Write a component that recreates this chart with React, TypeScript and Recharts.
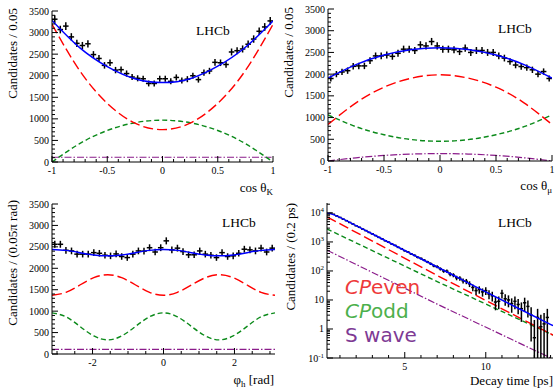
import React from "react";
import { ComposedChart, Scatter, Line, XAxis, YAxis, ErrorBar } from "recharts";

const SERIF = "'Liberation Serif', 'Times New Roman', serif";
const SANS = "'DejaVu Sans', sans-serif";

const BLUE = "#0000ff";
const RED = "#ff0000";
const GREEN = "#0b8a1a";
const PURPLE = "#8b1c8b";

// cos(theta_K): 40 bins of 0.05
const cosKData = [3310, 3070, 3150, 2900, 2750, 2700, 2740, 2490, 2400, 2240, 2300, 2130, 2140, 2050, 1970, 1940, 1930, 1820, 1820, 1930,
  1930, 1870, 1960, 1890, 1920, 2000, 1910, 2070, 2110, 2310, 2300, 2260, 2550, 2580, 2620, 2730, 2850, 3030, 3130, 3270];
// cos(theta_mu)
const cosMuData = [1900, 2000, 2050, 2080, 2180, 2190, 2190, 2310, 2420, 2420, 2440, 2410, 2480, 2575, 2575, 2545, 2675, 2650, 2750, 2650,
  2575, 2575, 2560, 2520, 2600, 2500, 2545, 2545, 2500, 2500, 2420, 2370, 2290, 2210, 2175, 2150, 2100, 2000, 2060, 1900];
// phi_h, 40 bins of 0.05 pi
const phiData = [2560, 2560, 2420, 2405, 2330, 2330, 2330, 2365, 2350, 2305, 2290, 2335, 2275, 2250, 2330, 2405, 2400, 2480, 2380, 2480,
  2640, 2430, 2470, 2390, 2315, 2315, 2405, 2330, 2305, 2250, 2365, 2275, 2290, 2350, 2445, 2430, 2405, 2470, 2380, 2470];
// decay time, bins of 0.2 ps from 0.3 ps
const timeData = [9800, 9000, 7900, 7000, 6100, 5400, 4700, 4150, 3600, 3200, 2780, 2460, 2130, 1890, 1660, 1440, 1280, 1100, 985, 850,
  760, 650, 585, 500, 450, 385, 345, 295, 270, 235, 205, 178, 150, 140, 118, 100, 98, 78, 72, 58,
  56, 46, 44, 36, 27, 21, 23, 19, 21, 16, 14, 8.5, 9, 17, 11, 10, 7.5, 9, 7, 5,
  8, 6, 3, 0.5, 2.5, 1.2, 1.5, 2.5];

// fit curves, read at sample points
const cosX = [-1, -0.75, -0.5, -0.25, 0, 0.25, 0.5, 0.75, 1];
const cosKTotal = [3280, 2650, 2210, 1930, 1840, 1930, 2220, 2660, 3270];
const cosKEven = [3190, 2120, 1360, 900, 750, 900, 1360, 2120, 3190];
const cosKOdd = [0, 425, 730, 910, 970, 910, 730, 425, 0];
const cosKS = [110, 110, 110, 110, 110, 110, 110, 110, 110];

const cosMuTotal = [1910, 2220, 2440, 2570, 2610, 2570, 2440, 2220, 1910];
const cosMuEven = [840, 1340, 1700, 1910, 1985, 1910, 1700, 1340, 840];
const cosMuOdd = [1060, 790, 605, 492, 455, 492, 605, 790, 1060];
const cosMuS = [0, 74, 128, 160, 170, 160, 128, 74, 0];

const phiX = [-3.1416, -2.7489, -2.3562, -1.9635, -1.5708, -1.1781, -0.7854, -0.3927, 0, 0.3927, 0.7854, 1.1781, 1.5708, 1.9635, 2.3562, 2.7489, 3.1416];
const phiTotal = [2440, 2418, 2365, 2312, 2290, 2312, 2365, 2418, 2440, 2418, 2365, 2312, 2290, 2312, 2365, 2418, 2440];
const phiEven = [1370, 1440, 1610, 1780, 1850, 1780, 1610, 1440, 1370, 1440, 1610, 1780, 1850, 1780, 1610, 1440, 1370];
const phiOdd = [960, 868, 645, 422, 330, 422, 645, 868, 960, 868, 645, 422, 330, 422, 645, 868, 960];
const phiS = [110, 110, 110, 110, 110, 110, 110, 110, 110, 110, 110, 110, 110, 110, 110, 110, 110];

const timeX = [0.2, 0.5, 1, 2, 4, 6, 8, 10, 12, 14.15];
const timeTotal = [10000, 9100, 7000, 3630, 977, 263, 71, 19, 5.2, 1.3];
const lineX = [0.2, 7, 14.15];
const timeEven = [7300, 70, 0.62];
const timeOdd = [2800, 43, 0.62];
const timeS = [520, 7.2, 0.092];

const range = (lo: number, hi: number, step: number) => {
  const out: number[] = [];
  for (let v = lo; v <= hi + 1e-9; v += step) out.push(Math.round(v * 1000) / 1000);
  return out;
};

const bins = (vals: number[], lo: number, w: number) =>
  vals.map((v, i) => ({ x: lo + (i + 0.5) * w, y: v, ex: w / 2, ey: Math.sqrt(v) * 1.6 }));

const logBins = (vals: number[], lo: number, w: number) =>
  vals.map((v, i) => {
    const e = Math.sqrt(1.8 * v + 1.5);
    return { x: lo + (i + 0.5) * w, y: v, ex: w / 2, ey: [Math.min(e, v - 0.1001), e] };
  });

const curve = (xs: number[], ys: number[]) => xs.map((x, i) => ({ x, y: ys[i] }));

type Side = "bottom" | "top" | "left" | "right";

const makeTick = (side: Side, majors: number[], fmt?: (v: number) => React.ReactNode) => (props: any) => {
  const { x, y, payload } = props;
  const v = payload.value;
  const major = majors.some((m) => Math.abs(m - v) < 1e-6 * Math.max(1, Math.abs(m)));
  const l = major ? 6 : 3;
  let line;
  if (side === "bottom") line = <line x1={x} y1={y} x2={x} y2={y - l} stroke="#000" />;
  else if (side === "top") line = <line x1={x} y1={y} x2={x} y2={y + l} stroke="#000" />;
  else if (side === "left") line = <line x1={x} y1={y} x2={x + l} y2={y} stroke="#000" />;
  else line = <line x1={x} y1={y} x2={x - l} y2={y} stroke="#000" />;
  let label = null;
  if (major && fmt) {
    if (side === "bottom")
      label = (
        <text x={x} y={y + 12} textAnchor="middle" fontFamily={SERIF} fontSize={10} fill="#000">
          {fmt(v)}
        </text>
      );
    else if (side === "left")
      label = (
        <text x={x - 3} y={y + 3.5} textAnchor="end" fontFamily={SERIF} fontSize={10} fill="#000">
          {fmt(v)}
        </text>
      );
  }
  return (
    <g>
      {line}
      {label}
    </g>
  );
};

const plain = (v: number) => String(v);
const logFmt = (v: number) => {
  if (v === 1) return "1";
  if (v === 10) return "10";
  const e = Math.round(Math.log10(v));
  return (
    <>
      10
      <tspan dy={-4} fontSize={7}>
        {e}
      </tspan>
    </>
  );
};

const angYMajor = range(0, 3500, 500);
const angYTicks = range(0, 3500, 100);
const cosMajor = [-1, -0.5, 0, 0.5, 1];
const cosTicks = range(-1, 1, 0.1);
const phiMajor = [-2, 0, 2];
const phiTicks = range(-3, 3, 0.5);
const timeMajor = [5, 10];
const timeTicks = range(1, 14, 1);
const logMajor = [0.1, 1, 10, 100, 1000, 10000];
const logTicks = logMajor.flatMap((d) => [1, 2, 3, 4, 5, 6, 7, 8, 9].map((k) => Math.round(d * k * 1000) / 1000)).filter((v) => v <= 22000);

type PanelProps = {
  left: number;
  top: number;
  width: number;
  height: number;
  margin: { top: number; right: number };
  yWidth: number;
  xHeight: number;
  xDomain: [number, number];
  yDomain: [number, number];
  xMajor: number[];
  xTicks: number[];
  yMajor: number[];
  yTicks: number[];
  yFmt: (v: number) => React.ReactNode;
  log?: boolean;
  points: any[];
  total: any[];
  even: any[];
  odd: any[];
  swave: any[];
  smooth?: boolean;
};

const Panel = (p: PanelProps) => {
  const lt = p.smooth ? "natural" : "linear";
  return (
    <div style={{ position: "absolute", left: p.left, top: p.top }}>
      <ComposedChart width={p.width} height={p.height} margin={{ top: p.margin.top, right: p.margin.right, bottom: 0, left: 0 }}>
        <XAxis
          type="number"
          dataKey="x"
          domain={p.xDomain}
          ticks={p.xTicks}
          interval={0}
          allowDataOverflow
          height={p.xHeight}
          tickSize={0}
          tickMargin={0}
          tickLine={false}
          axisLine={{ stroke: "#000" }}
          tick={makeTick("bottom", p.xMajor, plain)}
        />
        <XAxis
          xAxisId="top"
          orientation="top"
          type="number"
          dataKey="x"
          domain={p.xDomain}
          ticks={p.xTicks}
          interval={0}
          allowDataOverflow
          height={0}
          tickSize={0}
          tickMargin={0}
          tickLine={false}
          axisLine={{ stroke: "#000" }}
          tick={makeTick("top", p.xMajor)}
        />
        <YAxis
          type="number"
          dataKey="y"
          scale={p.log ? "log" : "linear"}
          domain={p.yDomain}
          ticks={p.yTicks}
          interval={0}
          allowDataOverflow
          width={p.yWidth}
          tickSize={0}
          tickMargin={0}
          tickLine={false}
          axisLine={{ stroke: "#000" }}
          tick={makeTick("left", p.yMajor, p.yFmt)}
        />
        <YAxis
          yAxisId="r"
          orientation="right"
          type="number"
          dataKey="y"
          scale={p.log ? "log" : "linear"}
          domain={p.yDomain}
          ticks={p.yTicks}
          interval={0}
          allowDataOverflow
          width={0}
          tickSize={0}
          tickMargin={0}
          tickLine={false}
          axisLine={{ stroke: "#000" }}
          tick={makeTick("right", p.yMajor)}
        />
        <Line data={p.swave} dataKey="y" type={lt} stroke={PURPLE} strokeWidth={1.2} strokeDasharray="7 2 1.5 2" dot={false} isAnimationActive={false} />
        <Line data={p.odd} dataKey="y" type={lt} stroke={GREEN} strokeWidth={1.4} strokeDasharray="5 3" dot={false} isAnimationActive={false} />
        <Line data={p.even} dataKey="y" type={lt} stroke={RED} strokeWidth={1.4} strokeDasharray="10 4" dot={false} isAnimationActive={false} />
        <Scatter data={p.points} dataKey="y" shape={() => <g />} isAnimationActive={false}>
          <ErrorBar dataKey="ey" direction="y" width={0} stroke="#000" strokeWidth={1.5} />
          <ErrorBar dataKey="ex" direction="x" width={0} stroke="#000" strokeWidth={1.5} />
        </Scatter>
        <Line data={p.total} dataKey="y" type={p.smooth ? "natural" : "monotone"} stroke={BLUE} strokeWidth={1.5} dot={false} isAnimationActive={false} />
      </ComposedChart>
    </div>
  );
};

const Overlay = () => (
  <svg width={555} height={388} style={{ position: "absolute", left: 0, top: 0, pointerEvents: "none" }}>
    <g fontFamily={SERIF} fill="#000">
      <text transform="translate(17,8) rotate(-90)" textAnchor="end" fontSize={13}>
        Candidates / 0.05
      </text>
      <text transform="translate(293,7) rotate(-90)" textAnchor="end" fontSize={13}>
        Candidates / 0.05
      </text>
      <text transform="translate(17,200) rotate(-90)" textAnchor="end" fontSize={13}>
        Candidates / (0.05π rad)
      </text>
      <text transform="translate(295,203) rotate(-90)" textAnchor="end" fontSize={13}>
        Candidates / (0.2 ps)
      </text>
      <text x={273} y={192} textAnchor="end" fontSize={13}>
        cos θ<tspan dy={3} fontSize={9}>K</tspan>
      </text>
      <text x={552} y={190} textAnchor="end" fontSize={13}>
        cos θ<tspan dy={3} fontSize={9}>μ</tspan>
      </text>
      <text x={274} y={384} textAnchor="end" fontSize={13}>
        φ<tspan dy={3} fontSize={9}>h</tspan>
        <tspan dy={-3}> [rad]</tspan>
      </text>
      <text x={553} y={385} textAnchor="end" fontSize={13}>
        Decay time [ps]
      </text>
      <text x={196} y={35} fontSize={13.5}>LHCb</text>
      <text x={498} y={33} fontSize={13.5}>LHCb</text>
      <text x={222} y={227} fontSize={13.5}>LHCb</text>
      <text x={498} y={227} fontSize={13.5}>LHCb</text>
    </g>
    <g fontFamily={SANS} fontSize={20}>
      <text x={345} y={294} fill="#ee3a3a">
        <tspan fontStyle="italic">CP</tspan>even
      </text>
      <text x={345} y={318} fill="#4cb04c">
        <tspan fontStyle="italic">CP</tspan>odd
      </text>
      <text x={345} y={342} fill="#7e3a94">
        S wave
      </text>
    </g>
  </svg>
);

export default function App() {
  return (
    <div style={{ position: "absolute", left: 0, top: 0, width: 555, height: 388, background: "#fff" }}>
      <Panel
        left={0}
        top={0}
        width={278}
        height={198}
        margin={{ top: 11, right: 5 }}
        yWidth={52}
        xHeight={36}
        xDomain={[-1, 1]}
        yDomain={[0, 3500]}
        xMajor={cosMajor}
        xTicks={cosTicks}
        yMajor={angYMajor}
        yTicks={angYTicks}
        yFmt={plain}
        points={bins(cosKData, -1, 0.05)}
        total={curve(cosX, cosKTotal)}
        even={curve(cosX, cosKEven)}
        odd={curve(cosX, cosKOdd)}
        swave={curve(cosX, cosKS)}
        smooth
      />
      <Panel
        left={278}
        top={0}
        width={277}
        height={198}
        margin={{ top: 9, right: 3 }}
        yWidth={50}
        xHeight={37}
        xDomain={[-1, 1]}
        yDomain={[0, 3500]}
        xMajor={cosMajor}
        xTicks={cosTicks}
        yMajor={angYMajor}
        yTicks={angYTicks}
        yFmt={plain}
        points={bins(cosMuData, -1, 0.05)}
        total={curve(cosX, cosMuTotal)}
        even={curve(cosX, cosMuEven)}
        odd={curve(cosX, cosMuOdd)}
        swave={curve(cosX, cosMuS)}
        smooth
      />
      <Panel
        left={0}
        top={190}
        width={280}
        height={198}
        margin={{ top: 14, right: 5 }}
        yWidth={52}
        xHeight={34}
        xDomain={[-Math.PI, Math.PI]}
        yDomain={[0, 3500]}
        xMajor={phiMajor}
        xTicks={phiTicks}
        yMajor={angYMajor}
        yTicks={angYTicks}
        yFmt={plain}
        points={bins(phiData, -Math.PI, Math.PI / 20)}
        total={curve(phiX, phiTotal)}
        even={curve(phiX, phiEven)}
        odd={curve(phiX, phiOdd)}
        swave={curve(phiX, phiS)}
        smooth
      />
      <Panel
        left={278}
        top={190}
        width={277}
        height={198}
        margin={{ top: 13, right: 2 }}
        yWidth={49}
        xHeight={30}
        xDomain={[0.2, 14.15]}
        yDomain={[0.1, 22000]}
        xMajor={timeMajor}
        xTicks={timeTicks}
        yMajor={logMajor}
        yTicks={logTicks}
        yFmt={logFmt}
        log
        points={logBins(timeData, 0.3, 0.2)}
        total={curve(timeX, timeTotal)}
        even={curve(lineX, timeEven)}
        odd={curve(lineX, timeOdd)}
        swave={curve(lineX, timeS)}
      />
      <Overlay />
    </div>
  );
}
